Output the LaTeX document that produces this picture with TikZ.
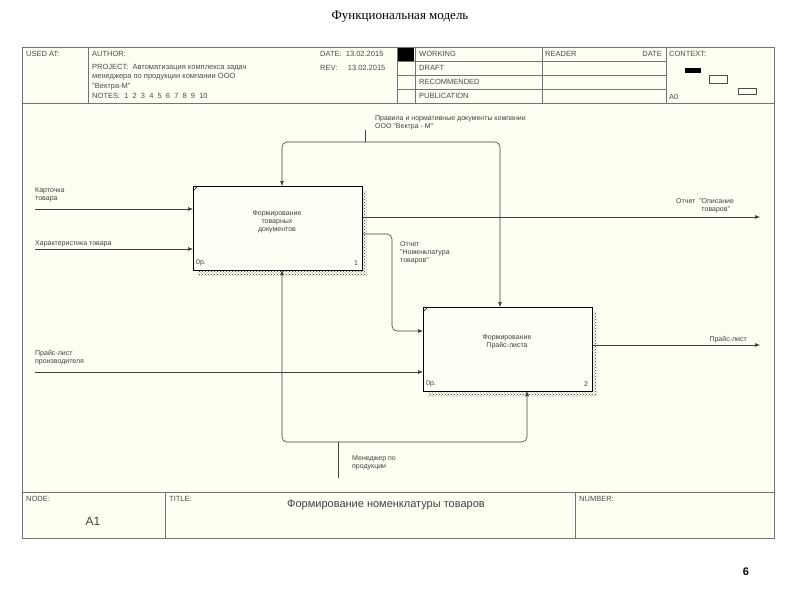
\documentclass[tikz,border=0pt]{standalone}
\usepackage{fontspec}
\setmainfont{Liberation Serif}
\newfontfamily\ls{Liberation Sans}
\usetikzlibrary{arrows.meta,patterns}
\begin{document}
\begin{tikzpicture}[x=1pt,y=-1pt,
  lab/.style={font=\ls\fontsize{7}{8}\selectfont,text=black!75,inner sep=0,align=left},
  hd/.style={font=\ls\fontsize{7.5}{8.5}\selectfont,text=black!70,inner sep=0,anchor=west},
  fr/.style={draw=black!55,line width=0.6pt},
  flow/.style={draw=black!75,line width=0.6pt,-{Latex[length=5pt,width=4pt]},rounded corners=5pt},
  act/.style={draw=black,line width=0.8pt,fill=white!96!yellow}]
\useasboundingbox (0,0) rectangle (800,600);
\fill[white] (0,0) rectangle (800,600);
\node[font=\fontsize{13}{15}\selectfont] (ttl) at (400,17) {Функциональная модель};
\node[font=\ls\bfseries\fontsize{11}{13}\selectfont] (pg) at (746,572) {6};
\fill[white!95!yellow] (22,47) rectangle (774,538);
\draw[fr] (22,47) rectangle (774,538);
% header
\draw[fr] (22,103) -- (774,103);
\draw[fr] (88,47) -- (88,103) (397,47) -- (397,103) (415,47)--(415,103) (542,47)--(542,103) (666,47)--(666,103);
\foreach \y in {61,75,89} \draw[fr] (397,\y) -- (666,\y);
\fill[black] (398,48) rectangle (414,61);
\node[hd] (ua) at (26,54) {USED AT:};
\node[hd] (au) at (92,54) {AUTHOR:};
\node[hd] (pr) at (92,68) {PROJECT:\ \ Автоматизация комплекса задач};
\node[hd] (pr2) at (92,77) {менеджера по продукции компании ООО};
\node[hd] (pr3) at (92,87) {"Вектра-М"};
\node[hd] (nt) at (92,96) {NOTES:\ \ 1\ \ 2\ \ 3\ \ 4\ \ 5\ \ 6\ \ 7\ \ 8\ \ 9\ \ 10};
\node[hd] (dt) at (320,54) {DATE:\ \ 13.02.2015};
\node[hd] (rv) at (320,68) {REV:\ \ \ \ \ 13.02.2015};
\node[hd] (wk) at (419,54) {WORKING};
\node[hd] (dr) at (419,68) {DRAFT};
\node[hd] (rc) at (419,82) {RECOMMENDED};
\node[hd] (pb) at (419,96) {PUBLICATION};
\node[hd] (rd) at (545,54) {READER};
\node[hd,anchor=east] (rdd) at (662,54) {DATE};
\node[hd] (cx) at (669,54) {CONTEXT:};
\node[hd] (a0) at (669,97) {A0};
\fill[black] (685,68) rectangle (701,73);
\draw[black!70] (709,75) rectangle (727,83) (738,88) rectangle (756,94);
% footer
\draw[fr] (22,492) -- (774,492) (165,492)--(165,538) (575,492)--(575,538);
\node[hd] (nd) at (26,499) {NODE:};
\node[hd] (ti) at (169,499) {TITLE:};
\node[hd] (nu) at (579,499) {NUMBER:};
\node[font=\ls\fontsize{12}{14}\selectfont,text=black!75] (a1) at (93,521) {A1};
\node[font=\ls\fontsize{11}{13}\selectfont,text=black!75] (tt) at (386,505) {Формирование номенклатуры товаров};
% boxes
\fill[pattern=crosshatch dots,pattern color=black!80] (198,191) rectangle (367,275);
\fill[pattern=crosshatch dots,pattern color=black!80] (428,312) rectangle (597,396);
\node[act,minimum width=169,minimum height=84,anchor=north west] (b1) at (193,186) {};
\node[act,minimum width=169,minimum height=84,anchor=north west] (b2) at (423,307) {};
\draw (193,191) -- (198,186) (423,312) -- (428,307);
\node[lab,align=center] (t1) at (277,222) {Формирование\\товарных\\документов};
\node[lab,align=center] (t2) at (507,342) {Формирование\\Прайс-листа};
\node[lab] (z1) at (201,263) {0р.};
\node[lab] (n1) at (356,263) {1};
\node[lab] (z2) at (431,384) {0р.};
\node[lab] (n2) at (586,384) {2};
% arrows
\coordinate (i1) at (35,209); \coordinate (i2) at (35,249); \coordinate (i3) at (35,372);
\coordinate (o1) at (760,217); \coordinate (o2) at (760,345);
\coordinate (c0) at (365,130); \coordinate (m0) at (338,478);
\draw[flow] (i1) -- (i1 -| b1.west);
\draw[flow] (i2) -- (i2 -| b1.west);
\draw[flow] (i3) -- (i3 -| b2.west);
\draw[flow] (b1.east |- o1) -- (o1);
\draw[flow] (b2.east |- o2) -- (o2);
\draw[flow] (362,234) -- (392,234) -- (392,331) -- (423,331);
\draw[draw=black!75,line width=0.6pt] (c0) -- (365,142);
\draw[flow] (365,142) -- (282,142) -- (282,186);
\draw[flow] (365,142) -- (500,142) -- (500,307);
\draw[draw=black!75,line width=0.6pt] (m0) -- (338,442);
\draw[flow] (338,442) -- (282,442) -- (282,270);
\draw[flow] (338,442) -- (527,442) -- (527,391);
% labels
\node[lab,anchor=north west] (l1) at (35,187) {Карточка\\товара};
\node[lab,anchor=south west] (l2) at (35,247) {Характеристика товара};
\node[lab,anchor=north west] (l3) at (35,350) {Прайс-лист\\производителя};
\node[lab,anchor=north west] (l4) at (676,198) {Отчет\ \ "Описание\\\ \ \ \ \ \ \ \ \ \ \ \ \ товаров"};
\node[lab,anchor=north west] (l5) at (400,241) {Отчет\\"Номенклатура\\товаров"};
\node[lab,anchor=north west] (l6) at (375,115) {Правила и нормативные документы компании\\ООО "Вектра - М"};
\node[lab,anchor=north west] (l7) at (352,455) {Менеджер по\\продукции};
\node[lab,anchor=south east] (l8) at (747,343) {Прайс-лист};
\end{tikzpicture}
\end{document}
